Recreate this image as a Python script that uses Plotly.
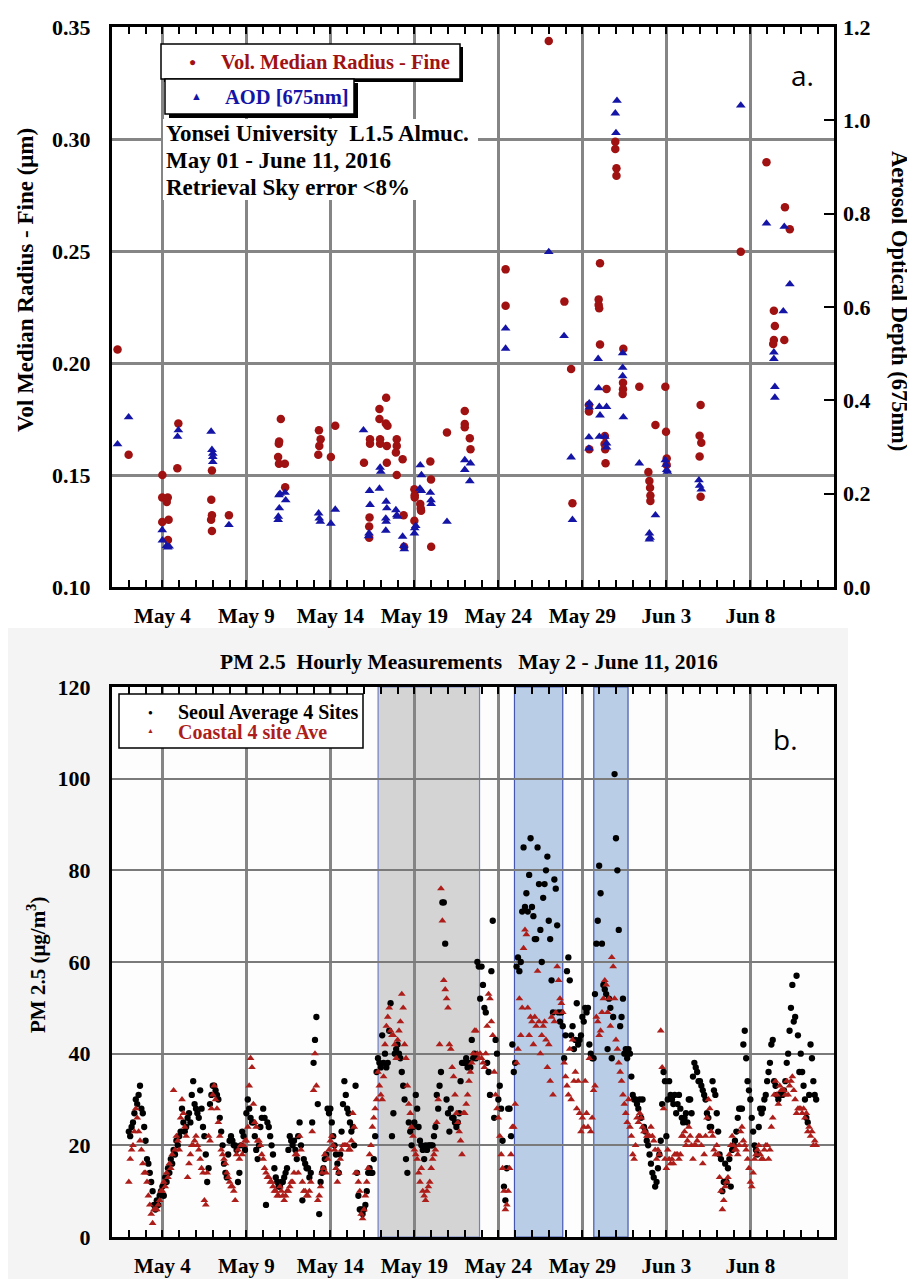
import pandas as pd
import plotly.graph_objects as go

# ---------------- data: panel a (AERONET retrievals) ----------------
# day offsets measured from 2016-05-01 00:00
radius_day = [0.33, 0.99,
              3.0, 2.99, 3.32, 3.26, 3.37, 2.99, 3.33, 3.95, 3.89,
              5.95, 5.91, 5.95, 5.9, 5.95, 6.96,
              10.05, 9.93, 9.95, 9.89, 9.94, 10.29, 10.31,
              12.32, 12.42, 12.34, 12.28, 13.03, 13.29,
              15.0, 15.36, 15.36, 15.33, 15.31, 15.31,
              15.92, 15.92, 16.32, 16.3, 16.4, 15.96, 15.96, 16.36, 16.36,
              16.95, 16.95, 16.9, 16.95, 17.3, 17.36, 17.39,
              18.0, 18.02, 18.02, 18.0, 18.35, 18.38, 18.4,
              18.95, 18.99, 19.0, 19.94,
              21.0, 21.0, 21.0, 21.3, 21.34,
              23.43, 23.43,
              26.0, 26.93, 27.33, 27.41,
              29.05, 28.97, 28.97, 29.0, 29.05,
              28.39, 28.39, 28.41,
              29.34, 29.32, 29.36, 29.38, 29.44,
              29.96, 29.96, 30.03, 30.03,
              30.44, 30.42, 30.42, 30.4,
              31.39, 31.93, 31.99, 32.03, 32.05, 32.05, 32.35,
              32.94, 32.98, 33.02, 33.02,
              35.04, 34.98, 35.08, 34.98, 35.04,
              37.43, 38.96, 39.4, 39.46, 39.4, 39.36, 40.02, 40.06, 40.35]
radius_val = [0.206, 0.159,
              0.150, 0.140, 0.140, 0.138, 0.130, 0.129, 0.121, 0.173, 0.153,
              0.152, 0.139, 0.132, 0.130, 0.125, 0.132,
              0.175, 0.164, 0.165, 0.158, 0.155, 0.155, 0.1445,
              0.170, 0.166, 0.163, 0.159, 0.158, 0.172,
              0.1555, 0.166, 0.164, 0.131, 0.127, 0.122,
              0.1795, 0.175, 0.1845, 0.173, 0.172, 0.166, 0.164, 0.163, 0.1555,
              0.166, 0.163, 0.160, 0.150, 0.157, 0.132, 0.118,
              0.1436, 0.141, 0.140, 0.1296, 0.137, 0.135, 0.134,
              0.156, 0.148, 0.118, 0.169,
              0.1786, 0.1728, 0.1713, 0.1664, 0.1615,
              0.2418, 0.2256,
              0.3437, 0.2274, 0.1973, 0.1374,
              0.2445, 0.2284, 0.2259, 0.2244, 0.2083,
              0.1813, 0.1783, 0.1615,
              0.1674, 0.1638, 0.1615, 0.1552, 0.1884,
              0.2988, 0.2955, 0.2869, 0.2836,
              0.2064, 0.1912, 0.1883, 0.1862,
              0.1894, 0.1513, 0.1473, 0.1443, 0.1408, 0.1384, 0.1723,
              0.1894, 0.1693, 0.1574, 0.1545,
              0.1813, 0.1675, 0.1644, 0.1583, 0.1403,
              0.2497, 0.2896, 0.2233, 0.2165, 0.2103, 0.2085, 0.2103, 0.2695, 0.2597]

aod_day = [0.33, 0.99,
           2.99, 3.0, 3.24, 3.32, 3.4, 3.95, 3.9,
           5.9, 5.95, 6.0, 6.0, 6.0, 6.96,
           9.94, 10.0, 9.96, 9.9, 9.89, 10.3, 10.34,
           12.3, 12.34, 12.4, 13.03, 13.29,
           14.97, 15.33, 15.36, 15.3, 15.27,
           15.92, 15.96, 16.0,
           16.32, 16.36, 16.3, 16.32, 16.3,
           16.9, 16.95, 16.99,
           17.3, 17.36, 17.4,
           18.0, 18.02, 18.08,
           18.35, 18.42, 18.33, 18.42,
           18.95, 18.99, 19.0, 19.94,
           21.0, 21.0, 21.34, 21.3,
           23.43, 23.43,
           26.0, 26.91, 27.33, 27.41,
           28.94, 28.41, 28.41, 28.39, 28.39,
           28.97, 29.01, 29.05, 29.01,
           29.44, 29.34, 29.44, 29.44,
           30.06, 29.96, 30.0,
           30.4, 30.4, 30.4, 30.44,
           31.39, 31.99, 32.03, 31.99, 32.35,
           32.94, 32.98, 33.02, 33.06,
           34.94, 34.98, 35.08,
           37.43, 38.96, 40.02, 40.35, 39.96,
           39.4, 39.4, 39.46, 39.46]
aod_val = [0.306, 0.364,
           0.122, 0.100, 0.088, 0.085, 0.087, 0.336, 0.322,
           0.333, 0.294, 0.286, 0.279, 0.268, 0.133,
           0.197, 0.200, 0.169, 0.151, 0.144, 0.202, 0.186,
           0.158, 0.147, 0.140, 0.136, 0.166,
           0.336, 0.206, 0.176, 0.115, 0.109,
           0.211, 0.256, 0.247,
           0.183, 0.169, 0.147, 0.140, 0.121,
           0.165, 0.154, 0.151,
           0.108, 0.088, 0.081,
           0.115, 0.126, 0.131,
           0.261, 0.240, 0.211, 0.206,
           0.202, 0.186, 0.178, 0.140,
           0.272, 0.251, 0.265, 0.227,
           0.554, 0.511,
           0.718, 0.538, 0.278, 0.144,
           0.489, 0.394, 0.385, 0.321, 0.297,
           0.426, 0.386, 0.368, 0.322,
           0.386, 0.322, 0.308, 0.299,
           1.042, 1.015, 0.973,
           0.501, 0.470, 0.452, 0.364,
           0.265, 0.115, 0.106, 0.102, 0.154,
           0.272, 0.262, 0.251, 0.247,
           0.229, 0.217, 0.209,
           1.032, 0.779, 0.772, 0.649, 0.591,
           0.503, 0.489, 0.429, 0.406]

# ---------------- data: panel b (PM2.5, 2-hourly samples per day) ----------------
pm_first_day = "2016-05-02"
pm_samples_per_day = 12
seoul_pm = [
    [23, 22, 24, 25, 27, 30, 29, 31, 33, 28, 27, 24],
    [21, 17, 16, 14, 12, 10, 7, 6, 8, 7, 9, 10],
    [11, 9, 13, 12, 15, 14, 17, 16, 19, 18, 21, 20],
    [22, 23, 28, 25, 23, 24, 26, 27, 25, 31, 34, 29],
    [28, 27, 26, 32, 28, 24, 22, 18, 12, 15, 29, 31],
    [33, 33, 32, 31, 30, 26, 23, 20, 16, 14, 13, 18],
    [21, 22, 21, 20, 20, 19, 12, 14, 20, 23, 22, 19],
    [27, 30, 28, 26, 25, 25, 22, 19, 17, 20, 24, 26],
    [28, 26, 7, 25, 24, 22, 20, 18, 15, 13, 12, 11],
    [11, 12, 12, 13, 14, 15, 19, 22, 21, 20, 21, 19],
    [17, 22, 25, 20, 8, 17, 16, 15, 15, 13, 14, 25],
    [38, 43, 48, 29, 5, 12, 14, 15, 17, 18, 28, 27],
    [28, 25, 22, 20, 18, 16, 14, 18, 23, 29, 34, 31],
    [28, 27, 25, 23, 24, 20, 33, 14, 9, 6, 6, 5],
    [6, 7, 10, 14, 15, 14, 14, 17, 22, 36, 39, 38],
    [37, 44, 38, 40, 37, 38, 45, 51, 22, 27, 40, 41],
    [42, 40, 39, 36, 33, 30, 17, 14, 25, 23, 20, 24],
    [25, 31, 28, 24, 21, 20, 19, 17, 20, 19, 20, 20],
    [20, 20, 22, 24, 31, 28, 33, 36, 73, 73, 64, 30],
    [27, 23, 28, 26, 26, 25, 24, 25, 27, 34, 38, 38],
    [38, 39, 37, 38, 37, 43, 39, 40, 39, 60, 59, 52],
    [59, 55, 50, 49, 38, 36, 31, 58, 69, 26, 43, 40],
    [30, 33, 28, 21, 11, 8, 15, 28, 28, 22, 42, 36],
    [38, 59, 61, 58, 60, 71, 85, 72, 75, 71, 79, 87],
    [72, 70, 65, 65, 85, 77, 67, 60, 74, 77, 80, 83],
    [69, 65, 56, 49, 78, 76, 68, 49, 47, 49, 46, 39],
    [44, 58, 61, 56, 44, 46, 41, 43, 51, 42, 43, 44],
    [48, 47, 50, 49, 50, 42, 40, 39, 39, 53, 64, 69],
    [81, 75, 64, 55, 54, 53, 41, 52, 50, 39, 48, 101],
    [87, 80, 67, 46, 48, 52, 40, 41, 39, 41, 40, 35],
    [31, 30, 30, 29, 28, 30, 26, 30, 24, 23, 21, 20],
    [18, 16, 14, 13, 11, 12, 15, 18, 21, 29, 36, 34],
    [22, 30, 34, 31, 30, 29, 31, 27, 29, 31, 28, 26],
    [25, 26, 27, 25, 30, 30, 27, 35, 38, 37, 36, 34],
    [34, 33, 32, 31, 30, 27, 26, 24, 24, 34, 32, 31],
    [27, 23, 18, 17, 10, 12, 16, 12, 15, 17, 11, 19],
    [20, 21, 23, 26, 28, 28, 28, 42, 45, 39, 34, 32],
    [30, 26, 23, 20, 19, 18, 24, 28, 27, 28, 30, 31],
    [34, 36, 38, 42, 43, 34, 33, 31, 30, 31, 31, 31],
    [32, 34, 38, 40, 45, 50, 55, 47, 48, 57, 44, 36],
    [40, 36, 33, 30, 26, 25, 31, 42, 39, 34, 31, 30],
]
coastal_pm = [
    [12, 17, 19, 20, 23, 28, 26, 23, 21, 19, 16, 14],
    [14, 12, 9, 7, 5, 3, 6, 6, 6, 7, 8, 10],
    [10, 12, 11, 14, 13, 16, 15, 18, 32, 19, 22, 21],
    [19, 26, 30, 27, 24, 22, 13, 16, 18, 20, 20, 21],
    [22, 20, 19, 17, 15, 14, 8, 7, 14, 22, 21, 28],
    [31, 33, 30, 28, 25, 22, 19, 18, 17, 16, 14, 13],
    [12, 11, 11, 10, 8, 18, 19, 17, 20, 18, 20, 21],
    [21, 24, 33, 39, 37, 29, 25, 24, 21, 21, 20, 18],
    [17, 15, 14, 13, 13, 12, 12, 11, 10, 10, 9, 9],
    [11, 10, 9, 8, 9, 10, 10, 11, 12, 12, 14, 18],
    [18, 14, 22, 19, 12, 10, 10, 9, 9, 10, 12, 23],
    [32, 40, 33, 8, 9, 11, 14, 15, 18, 14, 17, 19],
    [21, 22, 20, 19, 15, 12, 14, 17, 19, 20, 20, 20],
    [20, 19, 19, 21, 27, 24, 14, 14, 12, 10, 5, 4],
    [6, 9, 12, 15, 18, 20, 24, 26, 28, 30, 36, 33],
    [31, 30, 35, 42, 46, 48, 50, 45, 44, 44, 42, 39],
    [43, 45, 47, 53, 50, 42, 39, 33, 29, 27, 24, 22],
    [19, 18, 17, 14, 12, 15, 10, 9, 8, 10, 11, 12],
    [15, 17, 18, 19, 25, 30, 42, 76, 69, 56, 54, 52],
    [50, 42, 41, 37, 35, 31, 27, 25, 23, 21, 18, 27],
    [27, 29, 31, 34, 36, 38, 40, 45, 45, 40, 39, 40],
    [39, 38, 37, 40, 46, 53, 52, 47, 44, 36, 31, 28],
    [26, 22, 18, 15, 10, 6, 7, 10, 15, 18, 24, 24],
    [29, 38, 41, 52, 44, 50, 63, 67, 66, 50, 44, 48],
    [47, 42, 48, 46, 58, 47, 40, 44, 46, 47, 43, 37],
    [42, 34, 48, 31, 47, 49, 59, 56, 52, 51, 49, 38],
    [35, 33, 31, 41, 30, 43, 34, 36, 28, 34, 27, 23],
    [26, 24, 34, 27, 24, 39, 23, 26, 32, 33, 48, 47],
    [44, 45, 49, 52, 56, 55, 49, 52, 46, 61, 59, 52],
    [43, 41, 38, 36, 34, 31, 29, 27, 25, 30, 24, 22],
    [18, 17, 20, 26, 25, 27, 26, 24, 23, 23, 22, 22],
    [22, 24, 22, 21, 19, 17, 19, 18, 45, 37, 28, 17],
    [15, 19, 17, 16, 17, 16, 18, 18, 18, 17, 18, 22],
    [22, 23, 20, 21, 24, 22, 20, 17, 20, 20, 21, 22],
    [22, 20, 16, 18, 22, 26, 30, 28, 23, 22, 19, 18],
    [20, 18, 13, 10, 6, 8, 11, 12, 13, 18, 20, 22],
    [20, 19, 19, 18, 20, 23, 24, 21, 20, 19, 17, 15],
    [12, 11, 14, 17, 18, 19, 20, 18, 17, 17, 19, 20],
    [20, 17, 19, 24, 26, 31, 34, 31, 29, 33, 32, 32],
    [32, 31, 34, 31, 33, 34, 35, 32, 30, 27, 28, 28],
    [28, 27, 28, 26, 27, 23, 24, 22, 23, 20, 21, 20],
]

gray_period = ("2016-05-16 20:10", "2016-05-22 21:05")
dust_periods = [("2016-05-24 23:00", "2016-05-27 20:00"),
                ("2016-05-29 16:20", "2016-05-31 17:15")]

x_range = ["2016-05-01 00:00", "2016-06-12 23:30"]
tick_start = "2016-05-04"

# ---------------- build ----------------
BASE = pd.Timestamp("2016-05-01")
rad_x = BASE + pd.to_timedelta(radius_day, unit="D")
aod_x = BASE + pd.to_timedelta(aod_day, unit="D")

pm_base = pd.Timestamp(pm_first_day)
pm_x, seoul_y, coastal_y = [], [], []
for k, (sday, cday) in enumerate(zip(seoul_pm, coastal_pm)):
    for i, (s, c) in enumerate(zip(sday, cday)):
        pm_x.append(pm_base + pd.Timedelta(days=k) + pd.Timedelta(hours=24 * i / pm_samples_per_day))
        seoul_y.append(s)
        coastal_y.append(c)

# page body has an 8px margin: the figure is placed at (8, 8)
OFF = 8
W, H = 915 - OFF, 1279 - OFF
def px(x):
    return (x - OFF) / W
def py(y):
    return 1 - (y - OFF) / H

SERIF = "Liberation Serif"
RED_TOP = "#a01212"
BLUE_TOP = "#1414a6"
RED_PM = "#ad1e1a"
GRID = "#858585"
DAY_MS = 86400000
TICKFONT = dict(family=SERIF, size=22, color="black", weight="bold")

fig = go.Figure()
fig.add_trace(go.Scatter(x=rad_x, y=radius_val, mode="markers", xaxis="x", yaxis="y",
                         marker=dict(symbol="circle", size=8.5, color=RED_TOP), showlegend=False))
fig.add_trace(go.Scatter(x=aod_x, y=aod_val, mode="markers", xaxis="x", yaxis="y2",
                         marker=dict(symbol="triangle-up", size=8.5, color=BLUE_TOP), showlegend=False))
fig.add_trace(go.Scatter(x=pm_x, y=seoul_y, mode="markers", xaxis="x2", yaxis="y3",
                         marker=dict(symbol="circle", size=6.3, color="black"), showlegend=False))
fig.add_trace(go.Scatter(x=pm_x, y=coastal_y, mode="markers", xaxis="x2", yaxis="y3",
                         marker=dict(symbol="triangle-up", size=6.8, color=RED_PM), showlegend=False))

xdom = [px(112), px(834)]
def xaxis_common(anchor):
    return dict(type="date", domain=xdom, anchor=anchor, range=x_range, automargin=False,
                tick0=tick_start, dtick=5 * DAY_MS, tickformat="%b %-d",
                showgrid=True, gridcolor=GRID, gridwidth=2.5,
                ticks="inside", ticklen=7, tickwidth=1.5, tickcolor="black",
                minor=dict(dtick=DAY_MS, tick0="2016-05-01", ticks="inside", ticklen=7,
                           tickwidth=1.5, tickcolor="black", showgrid=False),
                showline=True, linewidth=3, linecolor="black", mirror="ticks",
                tickfont=dict(TICKFONT, size=21), ticklabelstandoff=8, zeroline=False)

fig.update_layout(
    width=W, height=H, margin=dict(l=0, r=0, t=0, b=0, autoexpand=False),
    paper_bgcolor="white", plot_bgcolor="rgba(0,0,0,0)",
    showlegend=False,
    xaxis=xaxis_common("y"),
    xaxis2=xaxis_common("y3"),
    yaxis=dict(domain=[py(587), py(27)], anchor="x", range=[0.10, 0.35], tick0=0.10, dtick=0.05,
               tickformat=".2f", showgrid=True, gridcolor=GRID, gridwidth=2.5, ticks="",
               showline=True, linewidth=3, linecolor="black", mirror=True, automargin=False,
               tickfont=TICKFONT, ticklabelstandoff=14, zeroline=False),
    yaxis2=dict(overlaying="y", side="right", anchor="x", range=[0, 1.2], tick0=0, dtick=0.2,
                tickformat=".1f", showgrid=False, ticks="inside", ticklen=10, tickwidth=2,
                tickcolor="black", showline=False, tickfont=TICKFONT, ticklabelstandoff=8,
                zeroline=False, automargin=False),
    yaxis3=dict(domain=[py(1237), py(687)], anchor="x2", range=[0, 120], tick0=0, dtick=20,
                showgrid=True, gridcolor="#7a7a7a", gridwidth=2, ticks="",
                showline=True, linewidth=3, linecolor="black", mirror=True, automargin=False,
                tickfont=TICKFONT, ticklabelstandoff=14, zeroline=False),
)

shapes = []
# light grey panel behind figure b
shapes.append(dict(type="rect", xref="paper", yref="paper", x0=0, x1=px(848), y0=0, y1=py(628),
                   fillcolor="#f4f4f4", line=dict(width=0), layer="below"))
shapes.append(dict(type="rect", xref="paper", yref="paper", x0=xdom[0], x1=xdom[1],
                   y0=py(1237), y1=py(687), fillcolor="#fdfdfd", line=dict(width=0), layer="below"))
# highlighted periods
shapes.append(dict(type="rect", xref="x2", yref="y3", x0=gray_period[0], x1=gray_period[1], y0=0, y1=120,
                   fillcolor="#d4d4d4", line=dict(color="#6f80c4", width=1.2), layer="below"))
for a, b in dust_periods:
    shapes.append(dict(type="rect", xref="x2", yref="y3", x0=a, x1=b, y0=0, y1=120,
                       fillcolor="#b9cde6", line=dict(color="#4557b0", width=1.2), layer="below"))
# legend boxes (with shadows)
def box(x0, y0, x1, y1, shadow):
    out = []
    if shadow:
        out.append(dict(type="rect", xref="paper", yref="paper", x0=px(x0 + shadow), x1=px(x1 + shadow),
                        y0=py(y1 + shadow), y1=py(y0 + shadow), fillcolor="black",
                        line=dict(width=0), layer="above"))
    out.append(dict(type="rect", xref="paper", yref="paper", x0=px(x0), x1=px(x1),
                    y0=py(y1), y1=py(y0), fillcolor="white",
                    line=dict(color="black", width=1.5), layer="above"))
    return out
shapes += box(161, 44, 460, 79, 3)
shapes += box(165, 79, 354, 114, 4)
# white background behind text block
shapes.append(dict(type="rect", xref="paper", yref="paper", x0=px(163), x1=px(478), y0=py(200), y1=py(119),
                   fillcolor="white", line=dict(width=0), layer="above"))
shapes += box(119, 694, 363, 748, 0)
fig.update_layout(shapes=shapes)

ann = []
def text(x, y, s, size, color="black", xanchor="left", angle=0, family=SERIF, weight="bold"):
    ann.append(dict(xref="paper", yref="paper", x=px(x), y=py(y), text=s, showarrow=False,
                    xanchor=xanchor, yanchor="middle", textangle=angle,
                    font=dict(family=family, size=size, color=color, weight=weight)))

text(192, 62, "●", 12, RED_TOP, "center")
text(219, 62, "Vol. Median Radius - Fine", 20.5, RED_TOP)
text(196, 96, "▲", 11, BLUE_TOP, "center")
text(223, 97, "AOD [675nm]", 20.5, BLUE_TOP)
text(164, 133, "Yonsei University\u00a0\u00a0L1.5 Almuc.", 23)
text(164, 160, "May 01 - June 11, 2016", 23)
text(164, 187, "Retrieval Sky error <8%", 23)
text(802, 75, "a.", 28, "black", "center", family="Open Sans", weight="normal")
text(25, 280, "Vol Median Radius - Fine (μm)", 23, "black", "center", -90)
text(899, 301, "Aerosol Optical Depth (675nm)", 22.5, "black", "center", 90)

text(469, 662, "PM 2.5\u00a0\u00a0Hourly Measurements\u00a0\u00a0\u00a0May 2 - June 11, 2016", 21.5, "black", "center")
text(150, 712, "●", 8, "black", "center")
text(176, 712, "Seoul Average 4 Sites", 20)
text(150, 731, "▲", 7, RED_PM, "center")
text(176, 732, "Coastal 4 site Ave", 20, RED_PM)
text(785, 739, "b.", 28, "black", "center", family="Open Sans", weight="normal")
text(36, 965, "PM 2.5 (μg/m<sup>3</sup>)", 21, "black", "center", -90)
fig.update_layout(annotations=ann)

fig.write_html("out.html")
